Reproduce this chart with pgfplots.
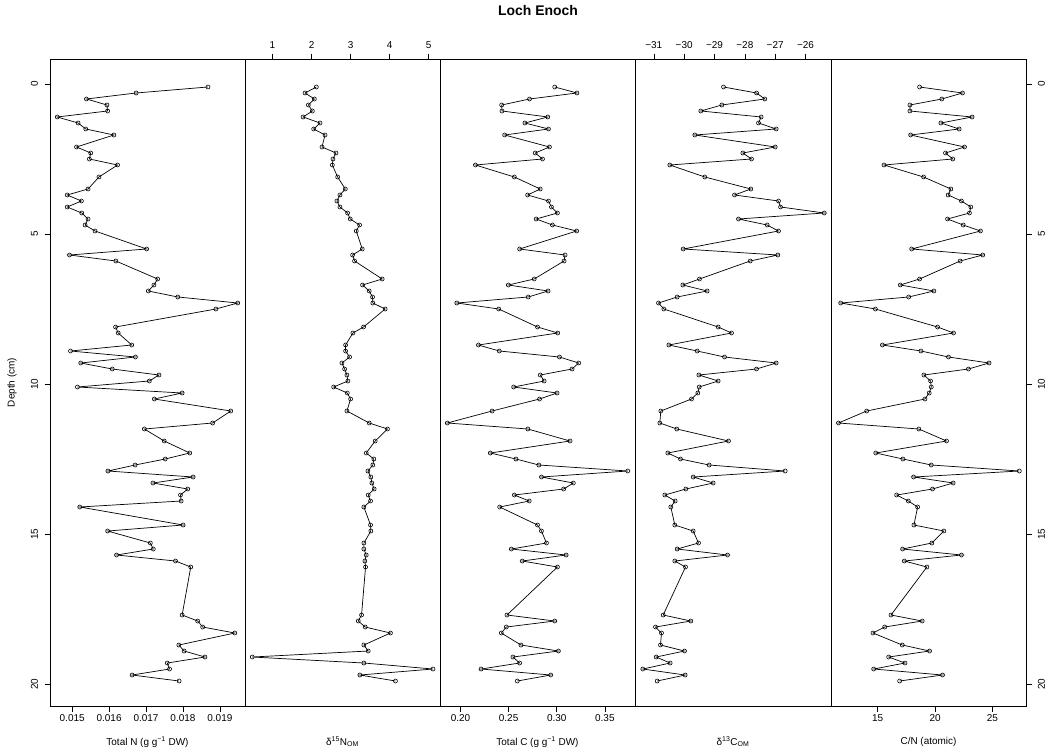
\documentclass[border=0pt]{standalone}
\usepackage{fontspec}
\setmainfont{Liberation Sans}
\usepackage{pgfplots}
\pgfplotsset{compat=1.18}
\usepackage{pgfplotstable}

\pgfplotstableread{
depth N d15N C d13C CN
0.1 0.018677 2.123 0.2979 -28.703 18.65
0.3 0.016731 1.834 0.3210 -27.615 22.39
0.5 0.015386 2.072 0.2717 -27.341 20.59
0.7 0.015942 1.919 0.2428 -28.758 17.81
0.9 0.015960 2.021 0.2431 -29.451 17.81
1.1 0.014596 1.783 0.2907 -27.462 23.23
1.3 0.015161 2.217 0.2669 -27.549 20.51
1.5 0.015368 2.055 0.2914 -26.967 22.10
1.7 0.016130 2.345 0.2459 -29.648 17.87
2.1 0.015117 2.268 0.2924 -27.000 22.57
2.3 0.015502 2.626 0.2776 -28.066 20.91
2.5 0.015466 2.549 0.2852 -27.780 21.55
2.7 0.016229 2.532 0.2155 -30.473 15.55
3.1 0.015726 2.668 0.2559 -29.319 19.00
3.5 0.015430 2.864 0.2828 -27.802 21.38
3.7 0.014865 2.728 0.2697 -28.341 21.14
3.9 0.015251 2.651 0.2914 -26.890 22.30
4.1 0.014865 2.728 0.2945 -26.824 23.12
4.3 0.015260 2.923 0.3007 -25.385 23.00
4.5 0.015430 2.991 0.2786 -28.209 21.09
4.7 0.015350 3.230 0.2955 -27.264 22.45
4.9 0.015619 3.145 0.3207 -26.890 23.96
5.5 0.017018 3.298 0.2614 -30.033 17.96
5.7 0.014928 3.051 0.3086 -26.912 24.16
5.9 0.016184 3.102 0.3076 -27.824 22.19
6.5 0.017314 3.809 0.2766 -29.495 18.65
6.7 0.017215 3.306 0.2497 -30.044 16.97
6.9 0.017063 3.477 0.2910 -29.242 19.90
7.1 0.017861 3.562 0.2703 -30.231 17.70
7.3 0.019484 3.570 0.1962 -30.846 11.78
7.5 0.018892 3.885 0.2397 -30.670 14.80
8.1 0.016175 3.332 0.2800 -28.879 20.22
8.3 0.016247 3.060 0.3010 -28.440 21.61
8.7 0.016614 2.872 0.2186 -30.505 15.41
8.9 0.014955 2.872 0.2403 -29.571 18.77
9.1 0.016713 2.974 0.3028 -28.670 21.17
9.3 0.015233 2.779 0.3228 -26.967 24.71
9.5 0.016085 2.847 0.3159 -27.615 22.91
9.7 0.017350 2.906 0.2828 -29.516 19.03
9.9 0.017090 2.932 0.2869 -28.879 19.61
10.1 0.015143 2.566 0.2552 -29.505 19.67
10.3 0.017978 2.915 0.3003 -29.549 19.49
10.5 0.017224 3.000 0.2821 -29.758 19.12
10.9 0.019296 2.906 0.2328 -30.769 14.04
11.3 0.018803 3.477 0.1862 -30.802 11.58
11.5 0.016955 3.945 0.2700 -30.242 18.59
11.9 0.017493 3.630 0.3138 -28.538 21.00
12.3 0.018184 3.400 0.2310 -30.538 14.83
12.5 0.017520 3.596 0.2576 -30.121 17.20
12.7 0.016704 3.570 0.2814 -29.176 19.67
12.9 0.015969 3.443 0.3738 -26.670 27.35
13.1 0.018274 3.519 0.2841 -29.703 18.13
13.3 0.017188 3.545 0.3172 -29.044 21.58
13.5 0.018130 3.604 0.3072 -29.945 19.78
13.7 0.017933 3.451 0.2559 -30.637 16.65
13.9 0.017951 3.511 0.2714 -30.297 17.67
14.1 0.015206 3.340 0.2407 -30.440 18.48
14.7 0.018004 3.511 0.2800 -30.308 18.16
14.9 0.015960 3.519 0.2841 -29.703 20.77
15.3 0.017117 3.340 0.2893 -29.527 19.72
15.5 0.017197 3.340 0.2528 -30.231 17.17
15.7 0.016202 3.400 0.3097 -28.571 22.30
15.9 0.017798 3.366 0.2641 -30.308 17.32
16.1 0.018211 3.383 0.3007 -29.956 19.29
17.7 0.017978 3.281 0.2483 -30.692 16.16
17.9 0.018399 3.196 0.2979 -29.780 18.88
18.1 0.018534 3.374 0.2476 -30.945 15.61
18.3 0.019404 4.021 0.2424 -30.747 14.59
18.7 0.017888 3.340 0.2628 -30.780 17.14
18.9 0.018031 3.451 0.3017 -29.989 19.52
19.1 0.018596 0.481 0.2545 -30.923 15.96
19.3 0.017574 3.340 0.2614 -30.462 17.38
19.5 0.017637 5.111 0.2214 -31.363 14.65
19.7 0.016623 3.238 0.2938 -29.967 20.65
19.9 0.017897 4.149 0.2590 -30.890 16.91
}\data

\pgfplotsset{
  panel/.style={
    scale only axis, width=195bp, height=647bp, anchor=south west,
    y dir=reverse, ymin=-0.833, ymax=20.733,
    ytick=\empty,
    scaled x ticks=false, scaled y ticks=false,
    axis line style={line width=0.8bp, black},
    tick align=outside, major tick length=5.5bp,
    tick style={black, line width=0.6bp},
    tick label style={font=\fontsize{10}{12}\selectfont},
    label style={font=\fontsize{10}{12}\selectfont},
    xlabel style={at={(axis description cs:0.5,0)}, anchor=center, yshift=-36bp},
  },
  ser/.style={black, line width=0.7bp, mark=o, mark size=2bp, mark options={line width=0.6bp, solid}},
}

\begin{document}
\begin{tikzpicture}
\path[use as bounding box] (0,0) rectangle (1048bp,754bp);

% Panel 1: Total N
\begin{axis}[panel, at={(50bp,48bp)},
  xmin=0.0144, xmax=0.01968,
  xtick={0.015,0.016,0.017,0.018,0.019},
  xticklabels={0.015,0.016,0.017,0.018,0.019},
  xtick pos=bottom,
  ytick={0,5,10,15,20}, yticklabels={0,5,10,15,20},
  ytick pos=left,
  yticklabel style={rotate=90, anchor=south, yshift=3bp},
  ylabel={Depth (cm)},
  ylabel style={at={(axis description cs:-0.195,0.5)}, anchor=center},
  xlabel={Total N (g g\textsuperscript{−1} DW)}]
\addplot[ser] table[x=N, y=depth]{\data};
\end{axis}

% Panel 2: d15N
\begin{axis}[panel, at={(245bp,48bp)},
  xmin=0.296, xmax=5.29,
  xtick={1,2,3,4,5}, xticklabels={1,2,3,4,5},
  xtick pos=top, xticklabel pos=top,
  xticklabel style={yshift=1bp},
  xlabel={δ\textsuperscript{15}N\textsubscript{OM}}]
\addplot[ser] table[x=d15N, y=depth]{\data};
\end{axis}

% Panel 3: Total C
\begin{axis}[panel, at={(440bp,48bp)},
  xmin=0.1787, xmax=0.3813,
  xtick={0.20,0.25,0.30,0.35}, xticklabels={0.20,0.25,0.30,0.35},
  xtick pos=bottom,
  xlabel={Total C (g g\textsuperscript{−1} DW)}]
\addplot[ser] table[x=C, y=depth]{\data};
\end{axis}

% Panel 4: d13C
\begin{axis}[panel, at={(635bp,48bp)}, width=196bp,
  xmin=-31.62, xmax=-25.16,
  xtick={-31,-30,-29,-28,-27,-26}, xticklabels={−31,−30,−29,−28,−27,−26},
  xtick pos=top, xticklabel pos=top,
  xticklabel style={yshift=1bp},
  xlabel={δ\textsuperscript{13}C\textsubscript{OM}}]
\addplot[ser] table[x=d13C, y=depth]{\data};
\end{axis}

% Panel 5: C/N
\begin{axis}[panel, at={(831bp,48bp)},
  xmin=10.93, xmax=27.93,
  xtick={15,20,25}, xticklabels={15,20,25},
  xtick pos=bottom,
  ytick={0,5,10,15,20}, yticklabels={0,5,10,15,20},
  ytick pos=right, yticklabel pos=right,
  yticklabel style={rotate=90, anchor=north, yshift=-3bp},
  xlabel={C/N (atomic)}]
\addplot[ser] table[x=CN, y=depth]{\data};
\end{axis}

\node[font=\fontsize{14}{16}\selectfont\bfseries] at (538bp,743bp) {Loch Enoch};
\end{tikzpicture}
\end{document}
